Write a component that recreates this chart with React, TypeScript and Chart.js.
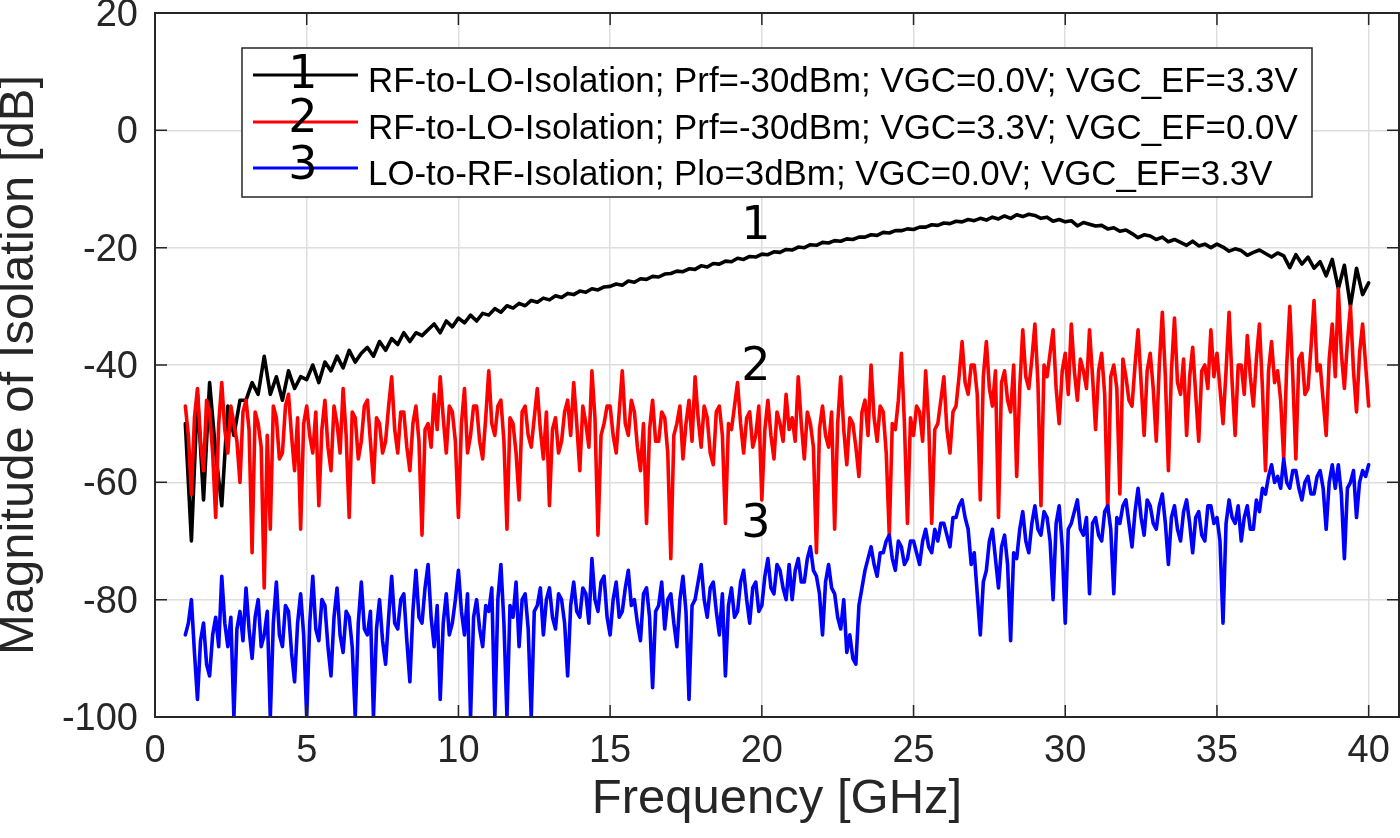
import React, { useEffect, useRef } from "react";
import { Chart, registerables } from "chart.js";

Chart.register(...registerables);

// Frequency sweep for trace 1 (GHz)
const FREQ_GHZ_COARSE = [
  1, 1.2, 1.4, 1.6, 1.8, 2, 2.2, 2.4, 2.6, 2.8,
  3, 3.2, 3.4, 3.6, 3.8, 4, 4.2, 4.4, 4.6, 4.8,
  5, 5.2, 5.4, 5.6, 5.8, 6, 6.2, 6.4, 6.6, 6.8,
  7, 7.2, 7.4, 7.6, 7.8, 8, 8.2, 8.4, 8.6, 8.8,
  9, 9.2, 9.4, 9.6, 9.8, 10, 10.2, 10.4, 10.6, 10.8,
  11, 11.2, 11.4, 11.6, 11.8, 12, 12.2, 12.4, 12.6, 12.8,
  13, 13.2, 13.4, 13.6, 13.8, 14, 14.2, 14.4, 14.6, 14.8,
  15, 15.2, 15.4, 15.6, 15.8, 16, 16.2, 16.4, 16.6, 16.8,
  17, 17.2, 17.4, 17.6, 17.8, 18, 18.2, 18.4, 18.6, 18.8,
  19, 19.2, 19.4, 19.6, 19.8, 20, 20.2, 20.4, 20.6, 20.8,
  21, 21.2, 21.4, 21.6, 21.8, 22, 22.2, 22.4, 22.6, 22.8,
  23, 23.2, 23.4, 23.6, 23.8, 24, 24.2, 24.4, 24.6, 24.8,
  25, 25.2, 25.4, 25.6, 25.8, 26, 26.2, 26.4, 26.6, 26.8,
  27, 27.2, 27.4, 27.6, 27.8, 28, 28.2, 28.4, 28.6, 28.8,
  29, 29.2, 29.4, 29.6, 29.8, 30, 30.2, 30.4, 30.6, 30.8,
  31, 31.2, 31.4, 31.6, 31.8, 32, 32.2, 32.4, 32.6, 32.8,
  33, 33.2, 33.4, 33.6, 33.8, 34, 34.2, 34.4, 34.6, 34.8,
  35, 35.2, 35.4, 35.6, 35.8, 36, 36.2, 36.4, 36.6, 36.8,
  37, 37.2, 37.4, 37.6, 37.8, 38, 38.2, 38.4, 38.6, 38.8,
  39, 39.2, 39.4, 39.6, 39.8, 40,
];

// Frequency sweep for traces 2 and 3 (GHz)
const FREQ_GHZ_FINE = [
  1, 1.1, 1.2, 1.3, 1.4, 1.5, 1.6, 1.7, 1.8, 1.9, 2, 2.1, 2.2, 2.3, 2.4, 2.5, 2.6, 2.7, 2.8, 2.9,
  3, 3.1, 3.2, 3.3, 3.4, 3.5, 3.6, 3.7, 3.8, 3.9, 4, 4.1, 4.2, 4.3, 4.4, 4.5, 4.6, 4.7, 4.8, 4.9,
  5, 5.1, 5.2, 5.3, 5.4, 5.5, 5.6, 5.7, 5.8, 5.9, 6, 6.1, 6.2, 6.3, 6.4, 6.5, 6.6, 6.7, 6.8, 6.9,
  7, 7.1, 7.2, 7.3, 7.4, 7.5, 7.6, 7.7, 7.8, 7.9, 8, 8.1, 8.2, 8.3, 8.4, 8.5, 8.6, 8.7, 8.8, 8.9,
  9, 9.1, 9.2, 9.3, 9.4, 9.5, 9.6, 9.7, 9.8, 9.9, 10, 10.1, 10.2, 10.3, 10.4, 10.5, 10.6, 10.7, 10.8, 10.9,
  11, 11.1, 11.2, 11.3, 11.4, 11.5, 11.6, 11.7, 11.8, 11.9, 12, 12.1, 12.2, 12.3, 12.4, 12.5, 12.6, 12.7, 12.8, 12.9,
  13, 13.1, 13.2, 13.3, 13.4, 13.5, 13.6, 13.7, 13.8, 13.9, 14, 14.1, 14.2, 14.3, 14.4, 14.5, 14.6, 14.7, 14.8, 14.9,
  15, 15.1, 15.2, 15.3, 15.4, 15.5, 15.6, 15.7, 15.8, 15.9, 16, 16.1, 16.2, 16.3, 16.4, 16.5, 16.6, 16.7, 16.8, 16.9,
  17, 17.1, 17.2, 17.3, 17.4, 17.5, 17.6, 17.7, 17.8, 17.9, 18, 18.1, 18.2, 18.3, 18.4, 18.5, 18.6, 18.7, 18.8, 18.9,
  19, 19.1, 19.2, 19.3, 19.4, 19.5, 19.6, 19.7, 19.8, 19.9, 20, 20.1, 20.2, 20.3, 20.4, 20.5, 20.6, 20.7, 20.8, 20.9,
  21, 21.1, 21.2, 21.3, 21.4, 21.5, 21.6, 21.7, 21.8, 21.9, 22, 22.1, 22.2, 22.3, 22.4, 22.5, 22.6, 22.7, 22.8, 22.9,
  23, 23.1, 23.2, 23.3, 23.4, 23.5, 23.6, 23.7, 23.8, 23.9, 24, 24.1, 24.2, 24.3, 24.4, 24.5, 24.6, 24.7, 24.8, 24.9,
  25, 25.1, 25.2, 25.3, 25.4, 25.5, 25.6, 25.7, 25.8, 25.9, 26, 26.1, 26.2, 26.3, 26.4, 26.5, 26.6, 26.7, 26.8, 26.9,
  27, 27.1, 27.2, 27.3, 27.4, 27.5, 27.6, 27.7, 27.8, 27.9, 28, 28.1, 28.2, 28.3, 28.4, 28.5, 28.6, 28.7, 28.8, 28.9,
  29, 29.1, 29.2, 29.3, 29.4, 29.5, 29.6, 29.7, 29.8, 29.9, 30, 30.1, 30.2, 30.3, 30.4, 30.5, 30.6, 30.7, 30.8, 30.9,
  31, 31.1, 31.2, 31.3, 31.4, 31.5, 31.6, 31.7, 31.8, 31.9, 32, 32.1, 32.2, 32.3, 32.4, 32.5, 32.6, 32.7, 32.8, 32.9,
  33, 33.1, 33.2, 33.3, 33.4, 33.5, 33.6, 33.7, 33.8, 33.9, 34, 34.1, 34.2, 34.3, 34.4, 34.5, 34.6, 34.7, 34.8, 34.9,
  35, 35.1, 35.2, 35.3, 35.4, 35.5, 35.6, 35.7, 35.8, 35.9, 36, 36.1, 36.2, 36.3, 36.4, 36.5, 36.6, 36.7, 36.8, 36.9,
  37, 37.1, 37.2, 37.3, 37.4, 37.5, 37.6, 37.7, 37.8, 37.9, 38, 38.1, 38.2, 38.3, 38.4, 38.5, 38.6, 38.7, 38.8, 38.9,
  39, 39.1, 39.2, 39.3, 39.4, 39.5, 39.6, 39.7, 39.8, 39.9, 40,
];

// 1: RF-to-LO isolation, VGC=0.0V, VGC_EF=3.3V (dB), on FREQ_GHZ_COARSE
const ISO_RF_LO_VGC0 = [
  -50, -70, -45, -63, -43, -55, -64, -47, -52, -46,
  -46, -43, -45, -38.5, -45, -42, -46, -41, -44, -42,
  -42.5, -40, -43, -39.5, -41, -38.5, -40.5, -37.5, -39.5, -38,
  -37, -38.5, -36, -37.5, -35.5, -36.5, -34.5, -36, -34.5, -35,
  -34, -33, -34.5, -32.5, -33.5, -32, -32.8, -31.5, -32.5, -31.2,
  -31.5, -30.4, -31, -29.9, -30.3, -29.5, -29.9, -29, -29.3, -28.6,
  -28.9, -28.2, -28.5, -27.8, -28, -27.4, -27.6, -27, -27.2, -26.7,
  -26.6, -26.2, -26.4, -25.7, -25.9, -25.3, -25.4, -24.9, -25, -24.5,
  -24.4, -24, -24.1, -23.6, -23.7, -23.1, -23.3, -22.7, -22.8, -22.3,
  -22.4, -21.8, -22, -21.5, -21.6, -21.1, -21.2, -20.7, -20.8, -20.3,
  -20.4, -19.9, -20, -19.5, -19.6, -19.1, -19.2, -18.8, -18.9, -18.5,
  -18.6, -18.2, -18.2, -17.8, -17.9, -17.4, -17.5, -17.1, -17.1, -16.8,
  -16.9, -16.5, -16.5, -16.1, -16.2, -15.8, -15.9, -15.5, -15.6, -15.2,
  -15.4, -15, -15.3, -14.8, -15.1, -14.6, -15, -14.4, -14.7, -14.3,
  -14.5, -15, -14.8, -15.5, -15.2, -15.6, -15.4, -16.3, -15.7, -16,
  -16.3, -16.2, -16.8, -16.6, -17.2, -17, -17.6, -18.3, -17.8, -18,
  -18.6, -18.2, -19, -18.6, -19.1, -19.6, -18.9, -19.7, -19.4, -20,
  -19.4, -19.9, -20.6, -20.2, -20.5, -21.3, -20.8, -20.4, -21, -21.6,
  -20.9, -21.4, -23.4, -21.2, -22.8, -21.6, -23.5, -22.4, -24.8, -22,
  -27, -23, -30, -23.5, -28, -26,
];

// 2: RF-to-LO isolation, VGC=3.3V, VGC_EF=0.0V (dB), on FREQ_GHZ_FINE
const ISO_RF_LO_VGC33 = [
  -47, -52, -62, -49, -44, -53, -58, -46, -48, -55, -66, -50, -43, -51, -55, -47, -50, -53, -60, -48,
  -46, -51, -72, -48, -50, -54, -78, -52, -68, -47, -49, -56, -55, -47, -45, -52, -58, -49, -68, -50,
  -47, -52, -55, -48, -64, -51, -46, -54, -58, -47, -50, -55, -44, -52, -66, -48, -49, -56, -53, -47,
  -46, -53, -60, -49, -50, -55, -53, -47, -42, -51, -55, -48, -48, -54, -58, -50, -47, -53, -69, -51,
  -50, -54, -45, -51, -42, -49, -55, -47, -48, -53, -66, -50, -44, -55, -52, -47, -47, -53, -56, -49,
  -41, -50, -52, -47, -46, -53, -68, -49, -50, -55, -63, -48, -47, -52, -54, -49, -44, -51, -56, -48,
  -64, -51, -49, -55, -53, -48, -46, -52, -43, -50, -58, -47, -50, -54, -41, -49, -69, -52, -50, -47,
  -47, -52, -55, -48, -41, -50, -52, -46, -48, -54, -58, -50, -67, -51, -46, -53, -53, -48, -49, -55,
  -73, -52, -50, -47, -56, -50, -46, -53, -42, -49, -54, -47, -49, -55, -57, -48, -47, -52, -67, -50,
  -51, -47, -43, -50, -55, -49, -48, -54, -52, -47, -63, -51, -46, -52, -56, -48, -50, -53, -45, -51,
  -49, -53, -42, -50, -56, -48, -50, -54, -72, -51, -47, -52, -54, -48, -68, -50, -42, -51, -57, -49,
  -50, -54, -59, -48, -46, -52, -40, -49, -53, -47, -48, -55, -69, -50, -51, -46, -38, -50, -67, -49,
  -52, -47, -48, -53, -41, -50, -67, -51, -50, -46, -42, -51, -55, -48, -47, -42, -36, -43, -45, -40,
  -40, -45, -63, -42, -36, -44, -47, -41, -66, -43, -41, -46, -48, -40, -59, -44, -34, -42, -44, -39,
  -33, -43, -64, -40, -42, -38, -34, -44, -50, -41, -38, -45, -33, -41, -46, -39, -41, -44, -34, -42,
  -51, -41, -38, -45, -65, -42, -40, -44, -62, -39, -42, -46, -47, -40, -34, -43, -52, -41, -38, -44,
  -53, -40, -31, -42, -58, -41, -32, -43, -45, -39, -52, -42, -37, -45, -53, -41, -40, -44, -34, -42,
  -38, -44, -50, -41, -31, -43, -52, -40, -40, -45, -35, -42, -47, -39, -33, -44, -58, -41, -36, -43,
  -41, -46, -56, -40, -30, -42, -56, -39, -38, -45, -44, -37, -29, -41, -40, -46, -52, -39, -33, -42,
  -27, -38, -44, -36, -30, -41, -48, -38, -33, -40, -47,
];

// 3: LO-to-RF isolation, Plo=3dBm (dB), on FREQ_GHZ_FINE
const ISO_LO_RF = [
  -86, -84, -80, -89, -97, -87, -84, -91, -93, -86, -83, -88, -76, -84, -88, -83, -100, -85, -82, -87,
  -78, -85, -90, -83, -80, -88, -86, -82, -100, -84, -77, -86, -88, -81, -82, -89, -94, -84, -79, -86,
  -100, -84, -76, -85, -87, -80, -81, -88, -93, -83, -78, -86, -89, -82, -83, -88, -100, -84, -77, -85,
  -86, -82, -100, -85, -80, -87, -91, -83, -76, -84, -85, -80, -79, -87, -94, -82, -75, -83, -84, -78,
  -74, -83, -88, -81, -97, -84, -79, -86, -84, -80, -75, -82, -86, -79, -100, -83, -80, -85, -88, -81,
  -82, -78, -100, -80, -74, -84, -100, -81, -83, -77, -88, -80, -79, -85, -100, -82, -81, -78, -86, -80,
  -78, -83, -85, -79, -80, -84, -93, -81, -77, -82, -83, -78, -79, -84, -73, -80, -82, -77, -76, -83,
  -86, -80, -77, -83, -82, -78, -75, -81, -80, -84, -87, -79, -78, -83, -95, -82, -81, -77, -85, -80,
  -79, -84, -88, -80, -76, -82, -97, -81, -80, -77, -74, -80, -83, -78, -77, -82, -86, -79, -93, -81,
  -78, -83, -82, -77, -75, -80, -84, -78, -77, -82, -81, -76, -73, -78, -79, -74, -75, -78, -80, -74,
  -80, -75, -73, -77, -77, -73, -71, -75, -76, -79, -86, -77, -74, -78, -79, -83, -85, -80, -89, -86,
  -90, -91, -81, -78, -75, -73, -71, -74, -76, -72, -72, -70, -69, -73, -75, -70, -71, -74, -73, -70,
  -70, -72, -74, -70, -68, -71, -72, -68, -70, -67, -67, -69, -71, -66, -66, -64, -63, -66, -68, -74,
  -72, -79, -86, -77, -75, -70, -68, -73, -78, -71, -69, -74, -87, -72, -73, -68, -65, -70, -72, -67,
  -64, -68, -69, -65, -66, -70, -80, -67, -64, -71, -84, -68, -67, -65, -63, -68, -69, -66, -79, -67,
  -66, -69, -70, -65, -64, -68, -79, -66, -67, -64, -63, -67, -71, -65, -61, -66, -69, -63, -64, -67,
  -68, -64, -62, -67, -74, -66, -64, -68, -70, -65, -63, -67, -72, -66, -65, -69, -70, -64, -64, -67,
  -66, -70, -84, -67, -63, -66, -67, -64, -70, -66, -64, -68, -68, -63, -65, -61, -62, -59, -57, -60,
  -59, -61, -56, -60, -61, -58, -58, -61, -63, -60, -59, -62, -62, -59, -58, -61, -68, -60, -57, -61,
  -57, -62, -73, -61, -60, -58, -66, -60, -58, -59, -57,
];

const SERIES_LABELS = [
  "RF-to-LO-Isolation; Prf=-30dBm; VGC=0.0V; VGC_EF=3.3V",
  "RF-to-LO-Isolation; Prf=-30dBm; VGC=3.3V; VGC_EF=0.0V",
  "LO-to-RF-Isolation; Plo=3dBm; VGC=0.0V; VGC_EF=3.3V",
];
const SERIES_TAGS = ["1", "2", "3"];
const SERIES_COLORS = ["#000000", "#ff0000", "#0000ff"];
// Where the curve tags are written (data coordinates)
const TAG_X = [19.8, 19.8, 19.8];
const TAG_Y = [-16.5, -40.5, -67.2];

const X_MIN = 0;
const X_MAX = 41;
const X_STEP = 5;
const Y_MIN = -100;
const Y_MAX = 20;
const Y_STEP = 20;

const FONT = "'Liberation Sans', Arial, Helvetica, sans-serif";
const TAG_FONT = "'DejaVu Sans', sans-serif";
const AXIS_COLOR = "#262626";

const framePlugin = {
  id: "matlabFrame",
  afterDatasetsDraw(chart: any) {
    const { ctx, chartArea: ca, scales } = chart;
    const xs = scales.x;
    const ys = scales.y;
    const TL = 12;
    ctx.save();
    // inner tick marks on all four sides
    ctx.strokeStyle = AXIS_COLOR;
    ctx.lineWidth = 1.5;
    ctx.beginPath();
    xs.ticks.forEach((t: any) => {
      const px = xs.getPixelForValue(t.value);
      ctx.moveTo(px, ca.bottom);
      ctx.lineTo(px, ca.bottom - TL);
      ctx.moveTo(px, ca.top);
      ctx.lineTo(px, ca.top + TL);
    });
    ys.ticks.forEach((t: any) => {
      const py = ys.getPixelForValue(t.value);
      ctx.moveTo(ca.left, py);
      ctx.lineTo(ca.left + TL, py);
      ctx.moveTo(ca.right, py);
      ctx.lineTo(ca.right - TL, py);
    });
    ctx.stroke();
    // axes box
    ctx.lineWidth = 2;
    ctx.strokeRect(ca.left, ca.top, ca.right - ca.left, ca.bottom - ca.top);

    // curve tags
    ctx.fillStyle = "#000000";
    ctx.textAlign = "center";
    ctx.textBaseline = "middle";
    ctx.font = `46px ${TAG_FONT}`;
    for (let i = 0; i < SERIES_TAGS.length; i++) {
      ctx.fillText(SERIES_TAGS[i], xs.getPixelForValue(TAG_X[i]), ys.getPixelForValue(TAG_Y[i]));
    }

    // legend box
    const lx = ca.left + 87;
    const ly = ca.top + 35;
    const lw = 1070;
    const lh = 149;
    ctx.fillStyle = "#ffffff";
    ctx.fillRect(lx, ly, lw, lh);
    ctx.strokeStyle = AXIS_COLOR;
    ctx.lineWidth = 1.5;
    ctx.strokeRect(lx, ly, lw, lh);
    // fit legend font so the first entry spans ~930px, as in the figure
    ctx.font = `35px ${FONT}`;
    const w0 = ctx.measureText(SERIES_LABELS[0]).width || 930;
    const legendSize = Math.max(30, Math.min(38, (35 * 930) / w0));
    const lineY = [27, 74, 120];
    const textBase = [44, 90.5, 137];
    const tagBase = [40, 84, 131];
    for (let i = 0; i < SERIES_LABELS.length; i++) {
      const y = ly + lineY[i];
      ctx.strokeStyle = SERIES_COLORS[i];
      ctx.lineWidth = 3;
      ctx.beginPath();
      ctx.moveTo(lx + 11, y);
      ctx.lineTo(lx + 116, y);
      ctx.stroke();
      ctx.fillStyle = "#000000";
      ctx.textAlign = "left";
      ctx.textBaseline = "alphabetic";
      ctx.font = `${legendSize}px ${FONT}`;
      ctx.fillText(SERIES_LABELS[i], lx + 126, ly + textBase[i]);
      ctx.textAlign = "center";
      ctx.font = `46px ${TAG_FONT}`;
      ctx.fillText(SERIES_TAGS[i], lx + 61, ly + tagBase[i]);
    }
    ctx.restore();
  },
};

export default function App() {
  const canvasRef = useRef<HTMLCanvasElement | null>(null);

  useEffect(() => {
    const canvas = canvasRef.current;
    if (!canvas) return;
    const series = [
      { f: FREQ_GHZ_COARSE, v: ISO_RF_LO_VGC0 },
      { f: FREQ_GHZ_FINE, v: ISO_RF_LO_VGC33 },
      { f: FREQ_GHZ_FINE, v: ISO_LO_RF },
    ];
    const chart = new Chart(canvas, {
      type: "line",
      data: {
        datasets: series.map((s, k) => ({
          label: SERIES_LABELS[k],
          data: s.f.map((f, i) => ({ x: f, y: s.v[i] })),
          borderColor: SERIES_COLORS[k],
          backgroundColor: SERIES_COLORS[k],
          borderWidth: 3.6,
          borderJoinStyle: "round",
          borderCapStyle: "round",
          pointRadius: 0,
          fill: false,
          tension: 0,
          order: 3 - k,
        })),
      },
      options: {
        animation: false,
        responsive: true,
        maintainAspectRatio: false,
        layout: { padding: { top: 13, right: 1, left: 0, bottom: 0 } },
        plugins: {
          legend: { display: false },
          tooltip: { enabled: false },
        },
        scales: {
          x: {
            type: "linear",
            min: X_MIN,
            max: X_MAX,
            afterFit: (s: any) => {
              s.height = 121;
              s.paddingLeft = 0;
              s.paddingRight = 0;
            },
            ticks: {
              stepSize: X_STEP,
              includeBounds: false,
              autoSkip: false,
              maxRotation: 0,
              padding: 12,
              color: AXIS_COLOR,
              font: { family: FONT, size: 38 },
            },
            grid: { color: "#dedede", lineWidth: 1.5, drawTicks: false },
            border: { display: false },
            title: {
              display: true,
              text: "Frequency [GHz]",
              color: AXIS_COLOR,
              font: { family: FONT, size: 49, lineHeight: 1.2 },
              padding: { top: 0, bottom: 9 },
            },
          },
          y: {
            type: "linear",
            min: Y_MIN,
            max: Y_MAX,
            afterFit: (s: any) => {
              s.width = 155;
              s.paddingTop = 0;
              s.paddingBottom = 0;
            },
            ticks: {
              stepSize: Y_STEP,
              autoSkip: false,
              padding: 17,
              labelOffset: 2.5,
              color: AXIS_COLOR,
              font: { family: FONT, size: 38 },
            },
            grid: { color: "#dedede", lineWidth: 1.5, drawTicks: false },
            border: { display: false },
            title: {
              display: true,
              text: "Magnitude of Isolation [dB]",
              color: AXIS_COLOR,
              font: { family: FONT, size: 49, lineHeight: 0.8 },
              padding: { top: 0, bottom: 0 },
            },
          },
        },
      },
      plugins: [framePlugin],
    } as any);
    return () => chart.destroy();
  }, []);

  return (
    <div
      style={{
        position: "fixed",
        left: 0,
        top: 0,
        width: 1400,
        height: 838,
        background: "#ffffff",
      }}
    >
      <canvas ref={canvasRef} />
    </div>
  );
}
